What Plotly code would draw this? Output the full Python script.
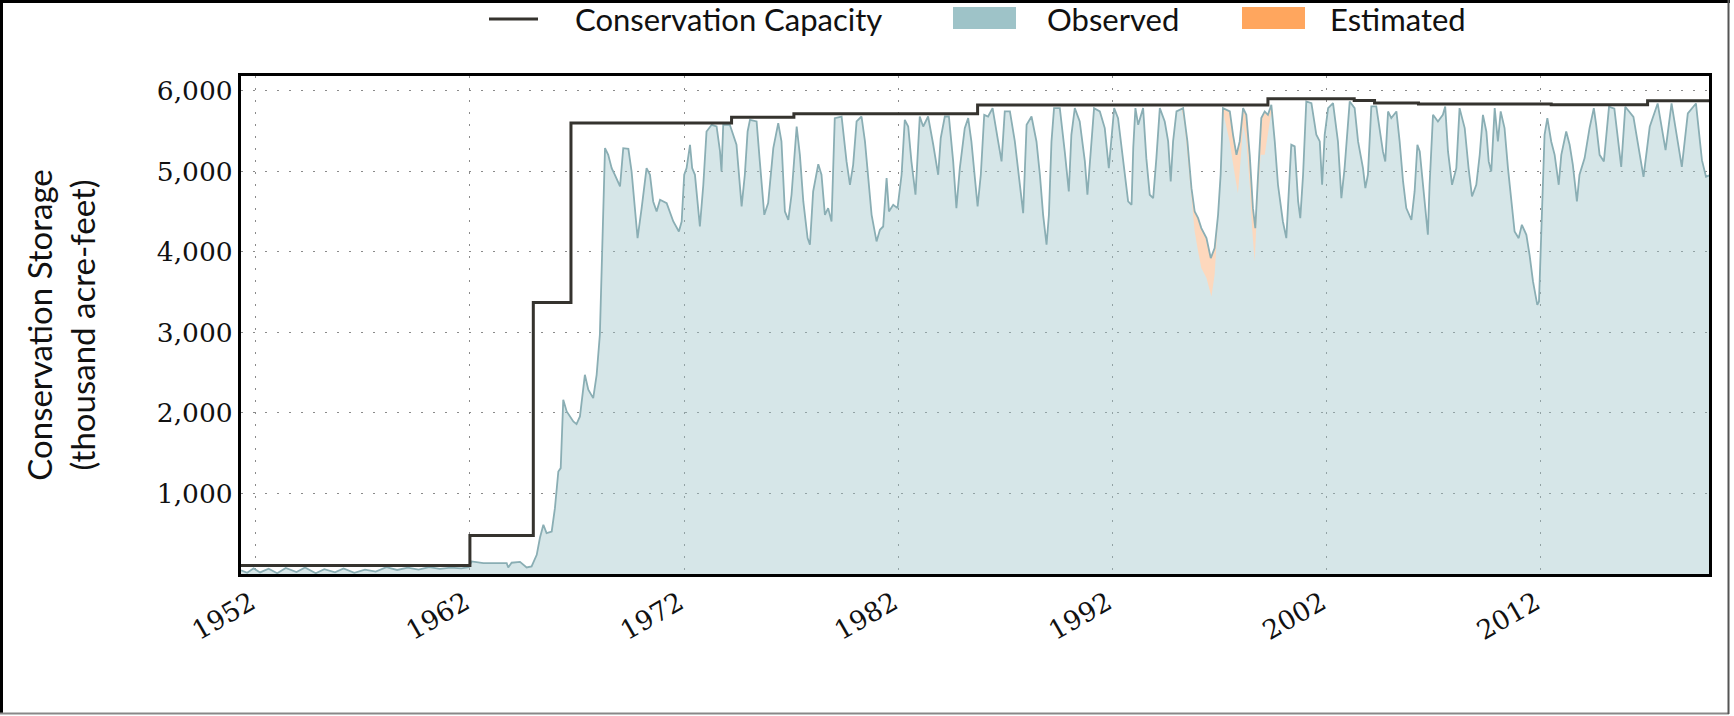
import plotly.graph_objects as go
from datetime import datetime

# ---------------- data ----------------
obs_year = [
    1951.31, 1951.6, 1951.9, 1952.2, 1952.6, 1953.0, 1953.4, 1953.9, 1954.3, 1954.8,
    1955.2, 1955.7, 1956.1, 1956.6, 1957.1, 1957.6, 1958.1, 1958.6, 1959.1, 1959.6,
    1960.1, 1960.6, 1961.1, 1961.6, 1961.95, 1962.08, 1962.63, 1963.25, 1963.72, 1963.79,
    1963.95, 1964.34, 1964.65, 1964.88, 1965.12, 1965.27, 1965.43, 1965.58, 1965.82, 1965.97,
    1966.13, 1966.24, 1966.36, 1966.52, 1966.83, 1966.98, 1967.14, 1967.37, 1967.53, 1967.76,
    1967.92, 1968.07, 1968.2, 1968.31, 1968.46, 1968.62, 1968.77, 1969.01, 1969.16, 1969.4,
    1969.55, 1969.71, 1969.83, 1970.02, 1970.25, 1970.41, 1970.56, 1970.72, 1970.88, 1971.19,
    1971.5, 1971.76, 1971.89, 1972.01, 1972.12, 1972.28, 1972.38, 1972.51, 1972.74, 1972.9,
    1973.05, 1973.29, 1973.52, 1973.68, 1973.75, 1973.83, 1974.14, 1974.45, 1974.69, 1974.84,
    1974.97, 1975.08, 1975.39, 1975.54, 1975.75, 1975.93, 1976.17, 1976.4, 1976.55, 1976.71,
    1976.87, 1977.02, 1977.26, 1977.41, 1977.57, 1977.77, 1977.88, 1978.03, 1978.27, 1978.42,
    1978.58, 1978.73, 1978.89, 1979.04, 1979.36, 1979.59, 1979.75, 1979.9, 1980.06, 1980.29,
    1980.45, 1980.76, 1980.99, 1981.15, 1981.3, 1981.46, 1981.57, 1981.77, 1981.97, 1982.16,
    1982.31, 1982.47, 1982.62, 1982.81, 1982.94, 1983.01, 1983.17, 1983.4, 1983.64, 1983.87,
    1983.99, 1984.18, 1984.37, 1984.57, 1984.72, 1984.88, 1985.11, 1985.27, 1985.42, 1985.71,
    1985.86, 1986.02, 1986.2, 1986.41, 1986.67, 1986.83, 1986.98, 1987.22, 1987.45, 1987.68,
    1987.84, 1988.0, 1988.23, 1988.46, 1988.62, 1988.77, 1988.93, 1989.04, 1989.16, 1989.28,
    1989.55, 1989.78, 1989.97, 1990.09, 1990.25, 1990.48, 1990.72, 1990.84, 1991.03, 1991.15,
    1991.42, 1991.65, 1991.84, 1991.96, 1992.09, 1992.27, 1992.51, 1992.74, 1992.9, 1992.98,
    1993.08, 1993.21, 1993.44, 1993.59, 1993.75, 1993.91, 1994.06, 1994.22, 1994.45, 1994.61,
    1994.73, 1994.84, 1995.0, 1995.31, 1995.51, 1995.7, 1995.85, 1996.01, 1996.16, 1996.4,
    1996.6, 1996.78, 1996.94, 1997.06, 1997.17, 1997.49, 1997.64, 1997.8, 1997.95, 1998.11,
    1998.26, 1998.42, 1998.57, 1998.68, 1998.81, 1998.96, 1999.12, 1999.27, 1999.43, 1999.59,
    1999.74, 1999.97, 2000.13, 2000.24, 2000.36, 2000.52, 2000.68, 2000.78, 2000.91, 2001.06,
    2001.3, 2001.53, 2001.69, 2001.8, 2001.92, 2002.08, 2002.31, 2002.54, 2002.7, 2002.85,
    2003.09, 2003.32, 2003.48, 2003.71, 2003.82, 2003.94, 2004.1, 2004.33, 2004.49, 2004.64,
    2004.75, 2004.88, 2005.03, 2005.27, 2005.42, 2005.58, 2005.73, 2005.97, 2006.12, 2006.25,
    2006.36, 2006.51, 2006.67, 2006.74, 2006.82, 2006.98, 2007.21, 2007.44, 2007.55, 2007.68,
    2007.87, 2008.07, 2008.22, 2008.46, 2008.64, 2008.8, 2009.0, 2009.16, 2009.31, 2009.47,
    2009.58, 2009.7, 2009.86, 2010.01, 2010.14, 2010.32, 2010.48, 2010.64, 2010.79, 2010.98,
    2011.13, 2011.34, 2011.49, 2011.65, 2011.85, 2011.93, 2012.04, 2012.19, 2012.32, 2012.5,
    2012.66, 2012.85, 2012.97, 2013.2, 2013.36, 2013.51, 2013.7, 2013.82, 2014.06, 2014.29,
    2014.49, 2014.6, 2014.76, 2014.96, 2015.2, 2015.45, 2015.77, 2015.96, 2016.34, 2016.81,
    2017.1, 2017.47, 2017.84, 2018.12, 2018.6, 2018.88, 2019.26, 2019.54, 2019.73, 2019.87,
]
obs_value = [
    45, 15, 70, 20, 65, 10, 75, 25, 80, 10,
    60, 20, 70, 15, 55, 30, 85, 50, 80, 55,
    85, 65, 80, 70, 85, 156, 135, 140, 135, 81,
    140, 150, 81, 94, 238, 450, 611, 507, 528, 818,
    1273, 1315, 2164, 2019, 1894, 1861, 1957, 2474, 2288, 2184,
    2474, 2971, 4130, 5289, 5206, 5041, 4958, 4813, 5289, 5281,
    5000, 4544, 4171, 4544, 5041, 4958, 4627, 4503, 4648, 4606,
    4378, 4254, 4378, 4958, 5041, 5331, 5041, 4958, 4316, 4834,
    5496, 5579, 5558, 5248, 5000, 5579, 5579, 5331, 4565, 4958,
    5496, 5641, 5620, 5124, 4461, 4606, 5289, 5600, 5372, 4503,
    4399, 4710, 5558, 5206, 4627, 4171, 4089, 4751, 5090, 4958,
    4461, 4544, 4378, 5662, 5682, 5124, 4834, 5082, 5620, 5682,
    5372, 4461, 4130, 4275, 4316, 4917, 4503, 4585, 4544, 4958,
    5640, 5558, 5124, 4710, 5372, 5682, 5558, 5682, 5331, 4958,
    5414, 5682, 5682, 5124, 4544, 5041, 5538, 5662, 5372, 4565,
    4958, 5703, 5682, 5786, 5372, 5124, 5745, 5745, 5372, 4834,
    4482, 5579, 5682, 5372, 4958, 4461, 4089, 4461, 5372, 5786,
    5786, 5248, 4751, 5455, 5786, 5620, 5124, 4710, 5372, 5786,
    5745, 5538, 5041, 5372, 5786, 5662, 5165, 4627, 4585, 5300,
    5786, 5579, 5786, 5165, 4710, 4668, 5165, 5786, 5620, 5372,
    4875, 5372, 5745, 5786, 5372, 4792, 4503, 4420, 4296, 4171,
    3923, 4047, 4461, 4958, 5786, 5745, 5455, 5206, 5372, 5786,
    5703, 5206, 4544, 4296, 4958, 5662, 5745, 5703, 5827, 5372,
    4834, 4378, 4171, 4751, 5331, 5310, 4627, 4420, 4958, 5869,
    5848, 5455, 5372, 4834, 5455, 5786, 5848, 5372, 4668, 5041,
    5869, 5786, 5372, 5041, 4792, 4958, 5807, 5807, 5538, 5248,
    5124, 5745, 5662, 5745, 5372, 4875, 4544, 4399, 4751, 5331,
    5248, 4834, 4461, 4213, 4834, 5703, 5620, 5703, 5807, 5248,
    4834, 5041, 5786, 5538, 5041, 4689, 4834, 5206, 5703, 5496,
    5124, 5000, 5786, 5372, 5745, 5538, 5041, 4627, 4254, 4171,
    4337, 4213, 3964, 3633, 3343, 3385, 4337, 5455, 5662, 5372,
    5206, 4834, 5206, 5496, 5331, 5082, 4627, 4958, 5165, 5538,
    5786, 5579, 5206, 5124, 5803, 5780, 5057, 5803, 5678, 4933,
    5554, 5844, 5264, 5844, 5057, 5720, 5844, 5140, 4933, 4950,
]

est_year = [
    1995.23, 1995.38, 1995.54, 1995.7, 1995.85, 1996.01, 1996.16, 1996.4, 1996.63, 1996.78,
    1996.94, 1997.06, 1997.17, 1997.48, 1997.72, 1997.87, 1998.0, 1998.11, 1998.26, 1998.42,
    1998.53, 1998.65, 1998.78, 1998.93, 1999.12, 1999.27, 1999.43, 1999.59,
]
est_value = [
    5786, 5579, 5124, 4627, 4254, 4006, 3799, 3675, 3447, 3716,
    4378, 4958, 5745, 5372, 4958, 4730, 5165, 5579, 5372, 4834,
    4296, 3882, 4627, 5206, 5206, 5455, 5745, 5372,
]

cap_year = [1951.31, 1962.0, 1964.96, 1966.72, 1974.22, 1977.13, 1985.71, 1999.27,
            2003.3, 2004.25, 2006.3, 2012.5, 2017.0, 2019.87]
cap_value = [105, 478, 3372, 5600, 5674, 5716, 5825, 5902,
             5880, 5850, 5836, 5828, 5877, 5877]

tick_years = [1952, 1962, 1972, 1982, 1992, 2002, 2012]
y_ticks = [1000, 2000, 3000, 4000, 5000, 6000]
legend_labels = ["Conservation Capacity", "Observed", "Estimated"]


def to_date(v):
    y = int(v)
    start = datetime(y, 1, 1)
    end = datetime(y + 1, 1, 1)
    return start + (end - start) * (v - y)


obs_dates = [to_date(v) for v in obs_year]
est_dates = [to_date(v) for v in est_year]
cap_dates = [to_date(v) for v in cap_year]
base = [(d, v) for y, d, v in zip(obs_year, obs_dates, obs_value)
        if est_year[0] <= y <= est_year[-1]]

# ---------------- layout geometry ----------------
W, H = 1734, 716
ML, MR, MT, MB = 241, 25, 76, 142
PW, PH = W - ML - MR, H - MT - MB


def px(xp):
    return (xp - ML) / PW


def py(yp):
    return (H - MB - yp) / PH


OBS_LINE = "#8aaeb4"
OBS_FILL = "rgba(157,196,201,0.42)"
EST_FILL = "#fdd8bd"
CAP_COLOR = "#35332e"
TICK_FONT = dict(family="DejaVu Serif", size=26.5, color="#111")
SANS = "Lato"

fig = go.Figure()
fig.add_trace(go.Scatter(x=obs_dates, y=obs_value, mode="lines", fill="tozeroy",
                         fillcolor=OBS_FILL, line=dict(width=0), name="Observed",
                         showlegend=False))
fig.add_trace(go.Scatter(x=[b[0] for b in base], y=[b[1] for b in base], mode="lines",
                         line=dict(width=0), showlegend=False, hoverinfo="skip"))
fig.add_trace(go.Scatter(x=est_dates, y=est_value, mode="lines", fill="tonexty",
                         fillcolor=EST_FILL, line=dict(width=0), name="Estimated",
                         showlegend=False))
fig.add_trace(go.Scatter(x=obs_dates, y=obs_value, mode="lines",
                         line=dict(color=OBS_LINE, width=1.8), showlegend=False,
                         hoverinfo="skip"))
fig.add_trace(go.Scatter(x=cap_dates, y=cap_value, mode="lines", line_shape="hv",
                         line=dict(color=CAP_COLOR, width=3), name="Conservation Capacity",
                         showlegend=False))

grid = dict(showgrid=True, gridcolor="#8a8a8a", gridwidth=1.4, griddash="2px,10px",
            showline=True, linecolor="black", linewidth=3, mirror=True,
            ticks="", zeroline=False)

fig.update_xaxes(type="date", range=[to_date(1951.31), to_date(2019.87)],
                 tickvals=[datetime(y, 1, 1) for y in tick_years],
                 ticktext=[str(y) for y in tick_years], tickangle=-30,
                 ticklabelshift=-5, tickfont=TICK_FONT, **grid)
fig.update_yaxes(range=[0, 6185], tickvals=y_ticks, tickformat=",",
                 tickfont=TICK_FONT,
                 title=dict(text="Conservation Storage<br>(thousand acre-feet)",
                            font=dict(family=SANS, size=33, color="#111"), standoff=52),
                 **grid)

# legend drawn above the plot
shapes = [
    dict(type="line", xref="paper", yref="paper", x0=px(489), x1=px(538), y0=py(19), y1=py(19),
         line=dict(color=CAP_COLOR, width=3)),
    dict(type="rect", xref="paper", yref="paper", x0=px(953), x1=px(1016), y0=py(7), y1=py(29),
         fillcolor="#9ec3c8", line=dict(width=0)),
    dict(type="rect", xref="paper", yref="paper", x0=px(1242), x1=px(1305), y0=py(7), y1=py(29),
         fillcolor="#ffa65e", line=dict(width=0)),
    # figure frame
    dict(type="line", xref="paper", yref="paper", x0=px(0), x1=px(1730), y0=py(1.5), y1=py(1.5),
         line=dict(color="black", width=3)),
    dict(type="line", xref="paper", yref="paper", x0=px(1.5), x1=px(1.5), y0=py(0), y1=py(714),
         line=dict(color="black", width=3)),
    dict(type="line", xref="paper", yref="paper", x0=px(0), x1=px(1729), y0=py(713.5), y1=py(713.5),
         line=dict(color="#888888", width=2)),
    dict(type="line", xref="paper", yref="paper", x0=px(1728.5), x1=px(1728.5), y0=py(0), y1=py(714),
         line=dict(color="#555555", width=2)),
]
annotations = [
    dict(text=legend_labels[0], x=px(573), y=py(19), xref="paper", yref="paper",
         xanchor="left", yanchor="middle", showarrow=False,
         font=dict(family=SANS, size=31, color="#111")),
    dict(text=legend_labels[1], x=px(1045), y=py(19), xref="paper", yref="paper",
         xanchor="left", yanchor="middle", showarrow=False,
         font=dict(family=SANS, size=31, color="#111")),
    dict(text=legend_labels[2], x=px(1328), y=py(19), xref="paper", yref="paper",
         xanchor="left", yanchor="middle", showarrow=False,
         font=dict(family=SANS, size=31, color="#111")),
]

fig.update_layout(width=W, height=H, margin=dict(l=ML, r=MR, t=MT, b=MB, autoexpand=False),
                  plot_bgcolor="white", paper_bgcolor="white", showlegend=False,
                  shapes=shapes, annotations=annotations, hovermode=False)

fig.write_html("out.html", config={"displayModeBar": False},
               post_script="document.body.style.margin='0px';"
                           "document.body.style.overflow='hidden';")
